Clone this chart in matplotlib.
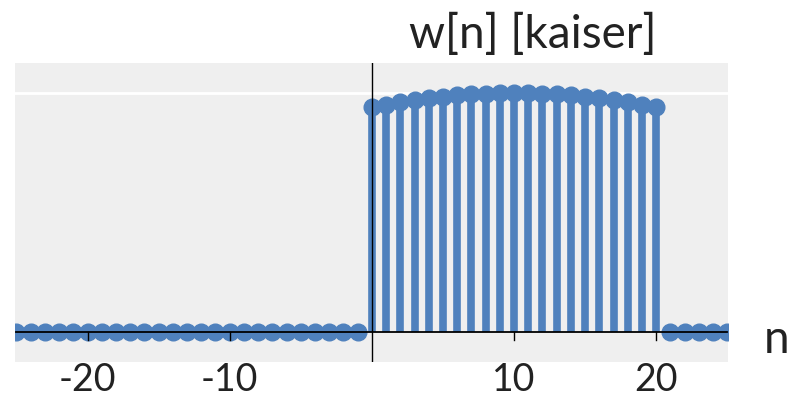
import matplotlib
matplotlib.use("Agg")
import matplotlib.pyplot as plt
import numpy as np

plt.rcParams['font.family'] = ['Lato', 'DejaVu Sans']

n_neg = list(range(-25, 0))
w_neg = [0.0] * 25
n_win = list(range(0, 21))
w_win = [0.940, 0.952, 0.962, 0.970, 0.978, 0.985, 0.990, 0.995, 0.998, 0.999, 1.000,
         0.999, 0.998, 0.995, 0.990, 0.985, 0.978, 0.970, 0.962, 0.952, 0.940]
n_pos = list(range(21, 26))
w_pos = [0.0] * 5
xticks = [-20, -10, 10, 20]
xticklabels = ['-20', '-10', '10', '20']

n_all = n_neg + n_win + n_pos
w_all = w_neg + w_win + w_pos

color = '#4f81bd'
fig = plt.figure(figsize=(7.9, 3.98), dpi=100)
ax = fig.add_axes([15/790, 1 - 362/398, 713/790, 299/398])
ax.set_facecolor('#efefef')

ml, sl, bl = ax.stem(n_all, w_all, basefmt='k-')
plt.setp(ml, color=color, markersize=12, zorder=3)
plt.setp(sl, color=color, linewidth=5.5, zorder=2)
plt.setp(bl, color='black', linewidth=1.3, zorder=4)
bl.set_xdata([n_all[0], n_all[-1]])

ax.axhline(1.0, color='white', linewidth=2, zorder=1)
ax.axvline(0, color='black', linewidth=1.0, zorder=5)

ax.set_xlim(-25.1, 25.05)
ax.set_ylim(-0.126, 1.126)
for s in ['top', 'right', 'left', 'bottom']:
    ax.spines[s].set_visible(False)
ax.set_yticks([])
ax.set_xticks(xticks)
ax.set_xticklabels(xticklabels, fontsize=27, color='#222222')
ax.tick_params(axis='x', direction='out', length=0, pad=0)
for t in xticks:
    ax.plot([t, t], [0, -0.035], color='black', linewidth=1.0, zorder=4)

fig.text(533/790, 1 - 34/398, 'w[n] [kaiser]', fontsize=33, ha='center', va='center', color='#222222')
fig.text(777/790, 1 - 340/398, 'n', fontsize=33, ha='center', va='center', color='#222222')

fig.savefig('out.png', dpi=100)
